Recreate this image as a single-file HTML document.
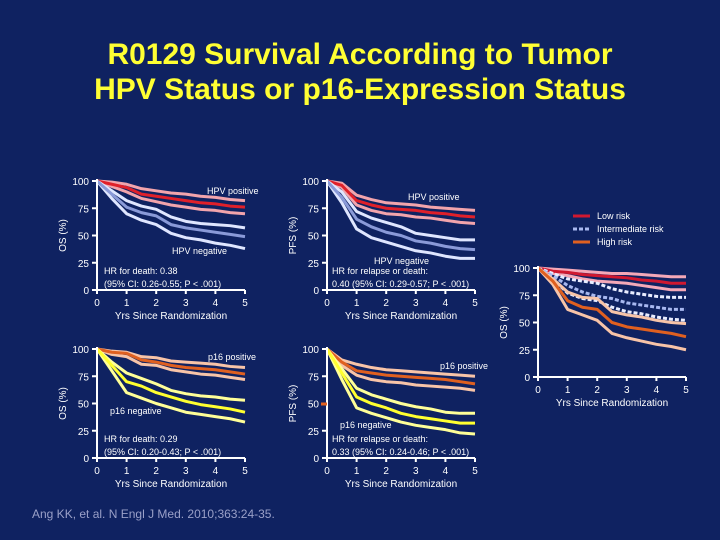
<!DOCTYPE html>
<html><head><meta charset="utf-8"><style>
html,body{margin:0;padding:0;background:#0f2261;}
svg{display:block;font-family:"Liberation Sans",Arial,sans-serif;}
</style></head><body>
<svg id="s" width="720" height="540" viewBox="0 0 720 540">
<rect width="720" height="540" fill="#0f2261"/>
<text x="360" y="64" text-anchor="middle" font-size="30" font-weight="bold" fill="#ffff33">R0129 Survival According to Tumor</text>
<text x="360" y="99" text-anchor="middle" font-size="30" font-weight="bold" fill="#ffff33">HPV Status or p16-Expression Status</text>
<text x="32" y="518" font-size="12" fill="#9aa0c8">Ang KK, et al. N Engl J Med. 2010;363:24-35.</text>
</svg>
<script>
const times=[0,0.5,1,1.5,2,2.5,3,3.5,4,4.5,5];
const xTicks=[0,1,2,3,4,5];
const yTicks=[0,25,50,75,100];
// Panel A: OS by HPV
const aPosMid=[100,97,94,88,86,84,82,80,79,77,76];
const aPosUp=[100,99,97,93,91,89,88,86,85,83,82];
const aPosLow=[100,95,90,84,81,78,76,74,73,71,70];
const aNegMid=[100,88,76,71,68,60,57,55,53,51,49];
const aNegUp=[100,91,82,77,74,67,63,61,60,59,57];
const aNegLow=[100,84,70,64,60,52,48,46,43,41,38];
// Panel B: PFS by HPV
const bPosMid=[100,96,82,78,75,74,73,71,70,68,67];
const bPosUp=[100,98,87,83,80,79,78,76,75,74,73];
const bPosLow=[100,94,78,73,70,69,67,66,64,62,61];
const bNegMid=[100,85,65,58,53,50,45,43,40,38,37];
const bNegUp=[100,90,72,66,62,58,52,50,48,46,46];
const bNegLow=[100,80,56,48,44,40,36,34,31,29,29];
// Panel C: OS by p16
const cPosMid=[100,97,96,90,88,85,83,82,81,79,77];
const cPosUp=[100,98,97,93,92,89,88,87,86,84,83];
const cPosLow=[100,95,93,86,85,81,79,77,76,74,72];
const cNegMid=[100,85,70,66,60,56,52,49,47,45,42];
const cNegUp=[100,88,78,73,68,62,59,57,56,54,53];
const cNegLow=[100,80,60,55,50,46,42,40,38,36,33];
// Panel D: PFS by p16
const dPosMid=[100,88,80,78,76,75,74,73,72,70,68];
const dPosUp=[100,90,86,83,81,80,79,78,77,76,75];
const dPosLow=[100,85,76,72,70,69,67,66,65,64,62];
const dNegMid=[100,78,56,50,46,41,38,36,34,32,32];
const dNegUp=[100,82,64,58,54,50,47,45,42,41,41];
const dNegLow=[100,72,46,41,37,33,30,28,26,23,22];
// Panel E: OS by risk group
const eLowMid=[100,97,96,94,93,92,91,89,88,86,86];
const eLowUp=[100,99,98,97,96,95,95,94,93,92,92];
const eLowLow=[100,95,93,90,88,87,86,84,82,80,80];
const eIntMid=[100,93,84,78,74,72,68,66,64,62,62];
const eIntUp=[100,95,90,88,86,81,78,76,74,73,73];
const eIntLow=[100,90,77,72,70,64,60,58,55,53,52];
const eHighMid=[100,88,70,64,62,50,46,44,42,40,37];
const eHighUp=[100,90,78,73,72,60,57,55,52,50,49];
const eHighLow=[100,85,62,57,52,40,36,33,30,28,25];

const NS="http://www.w3.org/2000/svg";
const svg=document.getElementById('s');
function mk(tag,attrs,parent){const e=document.createElementNS(NS,tag);for(const k in attrs)e.setAttribute(k,attrs[k]);(parent||svg).appendChild(e);return e;}
function txt(x,y,s,size,anchor,parent){const t=mk('text',{x:x,y:y,'font-size':size,fill:'#fff','text-anchor':anchor||'start'},parent);t.textContent=s;return t;}

function panel(name,ox,oy,ylabel,series){
  const W=148,H=109;
  const g=mk('g',{});
  
  
  const sx=v=>ox+v/5*W, sy=v=>oy-v/100*H;
  series.forEach(s=>{
    let d='M'+sx(times[0])+','+sy(s.v[0]);
    for(let i=1;i<times.length;i++){d+=' L'+sx(times[i])+','+sy(s.v[i]);}
    const p=mk('path',{d:d,fill:'none',stroke:s.c,'stroke-width':3,'stroke-linejoin':'round','stroke-dasharray':s.dash||'none'},g);
    
    
  });
  const ax=mk('path',{d:'M'+ox+','+(oy-H-2)+' V'+oy+' H'+(ox+W),stroke:'#fff','stroke-width':2,fill:'none'},g);
  
  
  xTicks.forEach(t=>{mk('line',{x1:sx(t),x2:sx(t),y1:oy,y2:oy+4,stroke:'#fff','stroke-width':2},g);
    const l=txt(sx(t),oy+16,String(t),10,'middle',g);
    
    });
  yTicks.forEach(t=>{mk('line',{x1:ox-5,x2:ox,y1:sy(t),y2:sy(t),stroke:'#fff','stroke-width':2},g);
    const l=txt(ox-8,sy(t)+4,String(t),10,'end',g);
    
    });
  const xl=txt(ox+W/2,oy+29,'Yrs Since Randomization',10,'middle',g);
  
  
  const yl=txt(0,0,ylabel,10,'middle',g);
  yl.setAttribute('transform','translate('+(ox-31)+','+(oy-H/2)+') rotate(-90)');
  
  
  return g;
}
const rM='#e0202a',rC='#f2a4ac',bM='#8a9ad8',bC='#dfe6ff',oM='#e06020',oC='#f8c4a8',yM='#ffff30',yC='#ffff98';
const gA=panel('panel-os-hpv',97,290,'OS (%)',[
 {n:'hpv-pos-upper',v:aPosUp,c:rC},{n:'hpv-pos-lower',v:aPosLow,c:rC},{n:'hpv-pos',v:aPosMid,c:rM},
 {n:'hpv-neg-upper',v:aNegUp,c:bC},{n:'hpv-neg-lower',v:aNegLow,c:bC},{n:'hpv-neg',v:aNegMid,c:bM}]);
const gB=panel('panel-pfs-hpv',327,290,'PFS (%)',[
 {n:'hpv-pos-upper',v:bPosUp,c:rC},{n:'hpv-pos-lower',v:bPosLow,c:rC},{n:'hpv-pos',v:bPosMid,c:rM},
 {n:'hpv-neg-upper',v:bNegUp,c:bC},{n:'hpv-neg-lower',v:bNegLow,c:bC},{n:'hpv-neg',v:bNegMid,c:bM}]);
const gC=panel('panel-os-p16',97,458,'OS (%)',[
 {n:'p16-pos-upper',v:cPosUp,c:oC},{n:'p16-pos-lower',v:cPosLow,c:oC},{n:'p16-pos',v:cPosMid,c:oM},
 {n:'p16-neg-upper',v:cNegUp,c:yC},{n:'p16-neg-lower',v:cNegLow,c:yC},{n:'p16-neg',v:cNegMid,c:yM}]);
const gD=panel('panel-pfs-p16',327,458,'PFS (%)',[
 {n:'p16-pos-upper',v:dPosUp,c:oC},{n:'p16-pos-lower',v:dPosLow,c:oC},{n:'p16-pos',v:dPosMid,c:oM},
 {n:'p16-neg-upper',v:dNegUp,c:yC},{n:'p16-neg-lower',v:dNegLow,c:yC},{n:'p16-neg',v:dNegMid,c:yM}]);
const gE=panel('panel-os-risk',538,377,'OS (%)',[
 {n:'low-risk-upper',v:eLowUp,c:'#f4a8b8'},{n:'low-risk-lower',v:eLowLow,c:'#f4a8b8'},{n:'low-risk',v:eLowMid,c:'#d01830'},
 {n:'int-risk-upper',v:eIntUp,c:'#e8ecff',dash:'4,2'},{n:'int-risk-lower',v:eIntLow,c:'#e8ecff',dash:'4,2'},{n:'int-risk',v:eIntMid,c:'#a8b8f0',dash:'4,2'},
 {n:'high-risk-upper',v:eHighUp,c:oC},{n:'high-risk-lower',v:eHighLow,c:oC},{n:'high-risk',v:eHighMid,c:oM}]);

function lab(g,x,y,s,n,anchor){const t=txt(x,y,s,9,anchor,g);}
lab(gA,207,194,'HPV positive','series-label-hpv-pos');
lab(gA,172,254,'HPV negative','series-label-hpv-neg');
lab(gA,104,274,'HR for death: 0.38','hr-text');
lab(gA,104,287,'(95% CI: 0.26-0.55; P < .001)','ci-text');
lab(gB,408,200,'HPV positive','series-label-hpv-pos');
lab(gB,374,264,'HPV negative','series-label-hpv-neg');
lab(gB,332,274,'HR for relapse or death:','hr-text');
lab(gB,332,287,'0.40 (95% CI: 0.29-0.57; P < .001)','ci-text');
lab(gC,208,360,'p16 positive','series-label-p16-pos');
lab(gC,110,414,'p16 negative','series-label-p16-neg');
lab(gC,104,442,'HR for death: 0.29','hr-text');
lab(gC,104,455,'(95% CI: 0.20-0.43; P < .001)','ci-text');
lab(gD,440,369,'p16 positive','series-label-p16-pos');
lab(gD,340,428,'p16 negative','series-label-p16-neg');
lab(gD,332,442,'HR for relapse or death:','hr-text');
lab(gD,332,455,'0.33 (95% CI: 0.24-0.46; P < .001)','ci-text');
mk('line',{x1:321,x2:327,y1:404,y2:404,stroke:oM,'stroke-width':3},gD);
const leg=mk('g',{});


[['Low risk','#d01830',null,219],['Intermediate risk','#a8b8f0','4,2',232],['High risk',oM,null,245]].forEach(r=>{
  mk('line',{x1:573,x2:590,y1:r[3]-3,y2:r[3]-3,stroke:r[1],'stroke-width':3,'stroke-dasharray':r[2]||'none'},leg);
  const t=txt(597,r[3],r[0],9,'start',leg);
  
  
});
</script>
</body></html>
